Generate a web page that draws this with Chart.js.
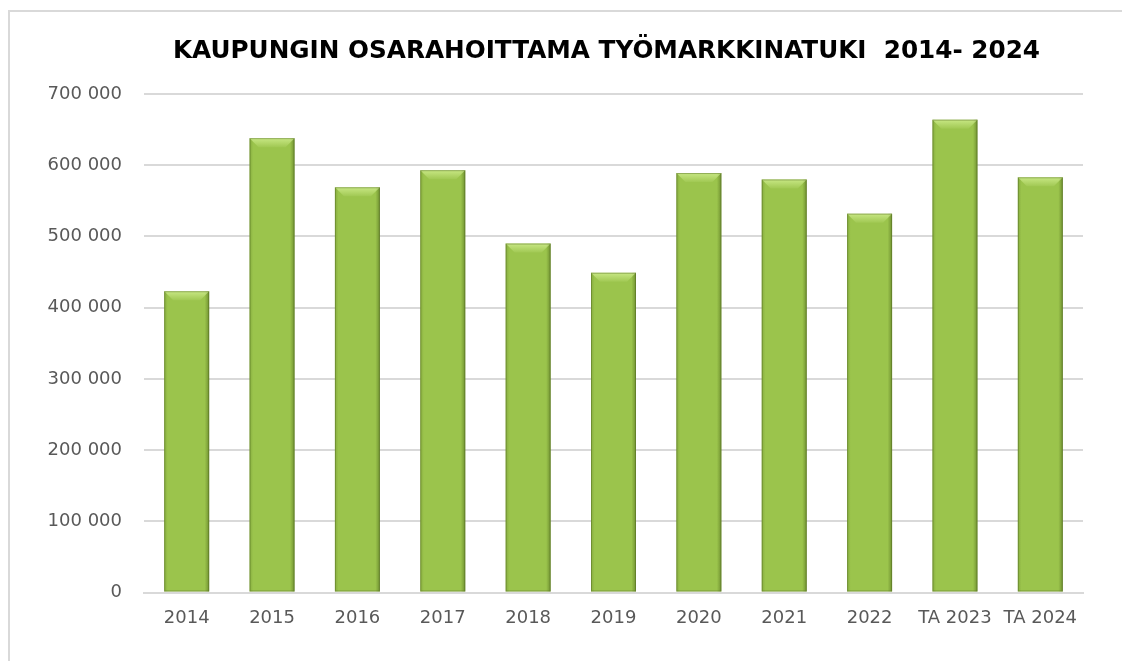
<!DOCTYPE html>
<html>
<head>
<meta charset="utf-8">
<script src="https://cdn.jsdelivr.net/npm/chart.js@4.4.1/dist/chart.umd.min.js"></script>
<style>
  html, body { margin: 0; padding: 0; background: #fff; overflow: hidden; }
  #frame { position: absolute; left: 8px; top: 10px; right: 0; bottom: 0; border-top: 2px solid #D9D9D9; border-left: 2px solid #D9D9D9; }
  #wrap { position: absolute; left: 0; top: 0; width: 1122px; height: 661px; }
</style>
</head>
<body>
<div id="frame"></div>
<div id="wrap"><canvas id="c" width="1122" height="661"></canvas></div>
<script>
const titleText = "KAUPUNGIN OSARAHOITTAMA TYÖMARKKINATUKI  2014- 2024";
const categories = ["2014", "2015", "2016", "2017", "2018", "2019", "2020", "2021", "2022", "TA 2023", "TA 2024"];
const values = [423000, 638000, 569000, 593000, 490000, 449000, 589000, 580000, 532000, 664000, 583000];
const yTicks = [0, 100000, 200000, 300000, 400000, 500000, 600000, 700000];

function fmt(v) {
  return String(v).replace(/\B(?=(\d{3})+(?!\d))/g, " ");
}

const titleDraw = {
  id: 'titleDraw',
  afterDraw(chart) {
    const ctx = chart.ctx;
    const a = chart.chartArea;
    ctx.save();
    ctx.font = 'bold 24.7px "DejaVu Sans"';
    ctx.fillStyle = '#000';
    ctx.textAlign = 'center';
    ctx.textBaseline = 'middle';
    ctx.fillText(titleText, (a.left + a.right) / 2 - 7, a.top - 42);
    ctx.restore();
  }
};

const barShade = {
  id: 'barShade',
  afterDatasetsDraw(chart) {
    const ctx = chart.ctx;
    const meta = chart.getDatasetMeta(0);
    meta.data.forEach(bar => {
      const p = bar.getProps(['x', 'y', 'base', 'width'], true);
      const l = p.x - p.width / 2, r = p.x + p.width / 2;
      const t = p.y, b = p.base;
      ctx.save();
      const hg = ctx.createLinearGradient(l, 0, r, 0);
      hg.addColorStop(0, 'rgba(40,60,0,0.18)');
      hg.addColorStop(0.08, 'rgba(40,60,0,0.0)');
      hg.addColorStop(0.90, 'rgba(40,60,0,0.0)');
      hg.addColorStop(1, 'rgba(30,45,0,0.35)');
      ctx.fillStyle = hg;
      ctx.fillRect(l, t, r - l, b - t);
      const bv = 9;
      const tg = ctx.createLinearGradient(0, t, 0, t + bv);
      tg.addColorStop(0, 'rgba(230,255,170,0.6)');
      tg.addColorStop(1, 'rgba(230,255,170,0.08)');
      ctx.beginPath();
      ctx.moveTo(l, t);
      ctx.lineTo(r, t);
      ctx.lineTo(r - bv, t + bv);
      ctx.lineTo(l + bv, t + bv);
      ctx.closePath();
      ctx.fillStyle = tg;
      ctx.fill();
      ctx.strokeStyle = 'rgba(80,105,30,0.45)';
      ctx.lineWidth = 1;
      ctx.strokeRect(l + 0.5, t + 0.5, r - l - 1, b - t - 1);
      ctx.restore();
    });
  }
};

const ctx = document.getElementById('c').getContext('2d');
new Chart(ctx, {
  type: 'bar',
  data: {
    labels: categories,
    datasets: [{
      data: values,
      backgroundColor: (c) => {
        const el = c.element;
        if (!el || el.y === undefined || isNaN(el.y)) return '#9BC44C';
        const g = c.chart.ctx.createLinearGradient(0, el.y, 0, el.base);
        g.addColorStop(0, '#AFD957');
        g.addColorStop(0.5, '#9CC54C');
        g.addColorStop(1, '#7D9E3D');
        return g;
      },
      borderWidth: 0,
      categoryPercentage: 1,
      barPercentage: 0.527
    }]
  },
  options: {
    responsive: false,
    animation: false,
    events: [],
    layout: { padding: { left: 0, right: 39, top: 94, bottom: 0 } },
    plugins: {
      legend: { display: false },
      tooltip: { enabled: false },
      title: { display: false }
    },
    scales: {
      x: {
        grid: { display: false, drawTicks: false },
        border: { display: true, color: '#D9D9D9', width: 2 },
        ticks: { color: '#595959', font: { family: 'DejaVu Sans', size: 18 }, padding: 15, maxRotation: 0, autoSkip: false },
        afterFit: (s) => { s.height = 68.5; }
      },
      y: {
        min: 0, max: 700000,
        afterBuildTicks: (s) => { s.ticks = yTicks.map(v => ({ value: v })); },
        grid: { color: '#D9D9D9', lineWidth: 2, drawTicks: false },
        border: { display: false },
        ticks: { color: '#595959', font: { family: 'DejaVu Sans', size: 18 }, padding: 22, callback: (v) => fmt(v) },
        afterFit: (s) => { s.width = 144; }
      }
    }
  },
  plugins: [barShade, titleDraw]
});
</script>
</body>
</html>
